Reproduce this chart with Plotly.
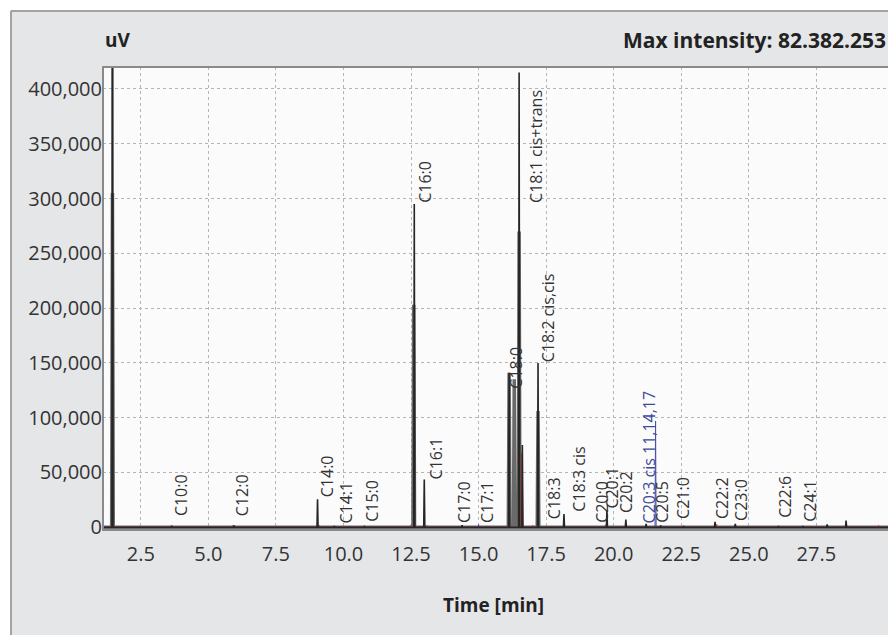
import plotly.graph_objects as go

# ---------------- data ----------------
X_MIN, X_MAX = 1.1, 30.3

# dark chromatogram trace: retention time (min), height (uV)
dark_times   = [1.45, 3.64, 5.95, 9.04, 9.66, 10.77, 12.62, 12.99, 14.39, 16.13, 16.50, 16.62, 17.20, 18.16, 19.75, 20.45, 21.20, 21.74, 22.59, 23.75, 24.50, 26.10, 27.00, 27.90, 28.60]
dark_heights = [1000000, 1200, 1500, 25500, 1000, 600, 295000, 43600, 2000, 141000, 415000, 75000, 150000, 12000, 15000, 7000, 3000, 1500, 1200, 5000, 3000, 1000, 1000, 2500, 6000]

# thicker peak bodies
body_times   = [1.45, 12.60, 16.13, 16.32, 16.50, 17.20]
body_heights = [305000, 203000, 141000, 135000, 270000, 106000]

# red overlay trace
red_times   = [3.64, 5.90, 9.10, 12.50, 13.10, 16.60, 17.00, 19.70, 23.80, 24.50, 28.60, 29.80]
red_heights = [1500, 1500, 1000, 2000, 1500, 68000, 1500, 2000, 2500, 1500, 2500, 1000]

# blue overlay trace
blue_times   = [15.00, 21.55]
blue_heights = [2500, 97000]

# peak labels: text, label position (min), label base (uV)
label_texts = ["C10:0", "C12:0", "C14:0", "C14:1", "C15:0", "C16:0", "C16:1", "C17:0", "C17:1",
               "C18:0", "C18:1 cis+trans", "C18:2 cis,cis", "C18:3", "C18:3 cis", "C20:0", "C20:1",
               "C20:2", "C20:3 cis 11,14,17", "C20:5", "C21:0", "C22:2", "C23:0", "C22:6", "C24:1"]
label_times = [4.01, 6.27, 9.37, 10.11, 11.07, 12.99, 13.43, 14.46, 15.31,
               16.38, 17.12, 17.60, 17.79, 18.71, 19.56, 19.93,
               20.45, 21.30, 21.78, 22.59, 24.00, 24.73, 26.36, 27.28]
label_bases = [8000, 8000, 26000, 2000, 3500, 294500, 42000, 2000, 2000,
               124500, 294500, 149000, 5500, 12700, 2000, 15000,
               11000, 2000, 2000, 5500, 5500, 3500, 6500, 3500]
label_colors = ["#333333"] * len(label_texts)
label_colors[17] = "#3c4a99"

y_ticks = [0, 50000, 100000, 150000, 200000, 250000, 300000, 350000, 400000]
x_ticks = [2.5, 5.0, 7.5, 10.0, 12.5, 15.0, 17.5, 20.0, 22.5, 25.0, 27.5]
x_ticklabels = ["2.5", "5.0", "7.5", "10.0", "12.5", "15.0", "17.5", "20.0", "22.5", "25.0", "27.5"]


def peak_path(times, heights, w=0.025):
    xs, ys = [X_MIN], [0]
    for t, h in sorted(zip(times, heights)):
        xs += [t - w, t, t + w]
        ys += [0, h, 0]
    xs.append(X_MAX)
    ys.append(0)
    return xs, ys


# ---------------- figure ----------------
# page body has an 8px margin: figure drawn at page offset (8, 8)
OFF = 8
W, H = 896 - OFF, 635 - OFF
ML, MR, MT, MB = 103 - OFF, 4, 67 - OFF, 105
PW, PH = W - ML - MR, H - MT - MB


def px(x):  # page pixel -> paper
    return (x - OFF - ML) / PW


def py(y):
    return (H - MB - (y - OFF)) / PH


fig = go.Figure()

bx, by = peak_path(body_times, body_heights, w=0.03)
fig.add_trace(go.Scatter(x=bx, y=by, mode="lines", line=dict(color="#6a6a6a", width=3.5),
                         hoverinfo="skip", showlegend=False))
rx, ry = peak_path(red_times, red_heights, w=0.03)
fig.add_trace(go.Scatter(x=rx, y=ry, mode="lines", line=dict(color="#d24a3c", width=1.6),
                         hoverinfo="skip", showlegend=False))
kx, ky = peak_path(blue_times, blue_heights, w=0.02)
fig.add_trace(go.Scatter(x=kx, y=ky, mode="lines", line=dict(color="#4a50a8", width=1.0),
                         hoverinfo="skip", showlegend=False))
dx, dy = peak_path(dark_times, dark_heights, w=0.02)
fig.add_trace(go.Scatter(x=dx, y=dy, mode="lines", line=dict(color="#262626", width=1.6),
                         hoverinfo="skip", showlegend=False))

annotations = []
for txt, t, b, c in zip(label_texts, label_times, label_bases, label_colors):
    annotations.append(dict(x=t, y=b, xref="x", yref="y", text=txt, showarrow=False,
                            textangle=-90, xanchor="center", yanchor="bottom",
                            font=dict(family="Open Sans", size=16, color=c)))

annotations += [
    dict(x=px(103), y=py(40), xref="paper", yref="paper", text="<b>uV</b>", showarrow=False,
         xanchor="left", yanchor="middle", font=dict(family="Open Sans", size=19, color="#222")),
    dict(x=px(888), y=py(40), xref="paper", yref="paper", text="<b>Max intensity: 82.382.253</b>",
         showarrow=False, xanchor="right", yanchor="middle",
         font=dict(family="Open Sans", size=21, color="#222")),
    dict(x=px(493), y=py(605), xref="paper", yref="paper", text="<b>Time [min]</b>", showarrow=False,
         xanchor="center", yanchor="middle", font=dict(family="Open Sans", size=19, color="#222")),
]

shapes = [
    # white outer margin (top and left)
    dict(type="rect", xref="paper", yref="paper", x0=px(0), x1=px(900), y0=py(10), y1=py(0),
         fillcolor="white", line=dict(width=0), layer="below"),
    dict(type="rect", xref="paper", yref="paper", x0=px(0), x1=px(10), y0=py(640), y1=py(0),
         fillcolor="white", line=dict(width=0), layer="below"),
    # panel frame
    dict(type="line", xref="paper", yref="paper", x0=px(11), x1=px(900), y0=py(11), y1=py(11),
         line=dict(color="#a3a3a3", width=2)),
    dict(type="line", xref="paper", yref="paper", x0=px(11), x1=px(11), y0=py(11), y1=py(640),
         line=dict(color="#a3a3a3", width=2)),
    # plot frame
    dict(type="rect", xref="paper", yref="paper", x0=0, x1=1, y0=0, y1=1,
         line=dict(color="#8a8a8a", width=2), fillcolor="rgba(0,0,0,0)"),
]

fig.update_layout(
    width=W, height=H,
    margin=dict(l=ML, r=MR, t=MT, b=MB),
    paper_bgcolor="#e5e6e8",
    plot_bgcolor="#fbfbfb",
    showlegend=False,
    annotations=annotations,
    shapes=shapes,
    font=dict(family="Open Sans", color="#333"),
)
fig.update_xaxes(range=[X_MIN, X_MAX], tickvals=x_ticks, ticktext=x_ticklabels,
                 showgrid=True, gridcolor="#b5b5b5", griddash="dot", gridwidth=1,
                 zeroline=False, showline=False, ticks="outside", ticklen=6,
                 tickcolor="rgba(0,0,0,0)",
                 tickfont=dict(family="Open Sans", size=20, color="#333"))
fig.update_yaxes(range=[-2500, 420000], tickvals=y_ticks, tickformat=",d",
                 showgrid=True, gridcolor="#b5b5b5", griddash="dot", gridwidth=1,
                 zeroline=False, showline=False, ticks="",
                 tickfont=dict(family="Open Sans", size=20, color="#333"))

fig.write_html("out.html")
